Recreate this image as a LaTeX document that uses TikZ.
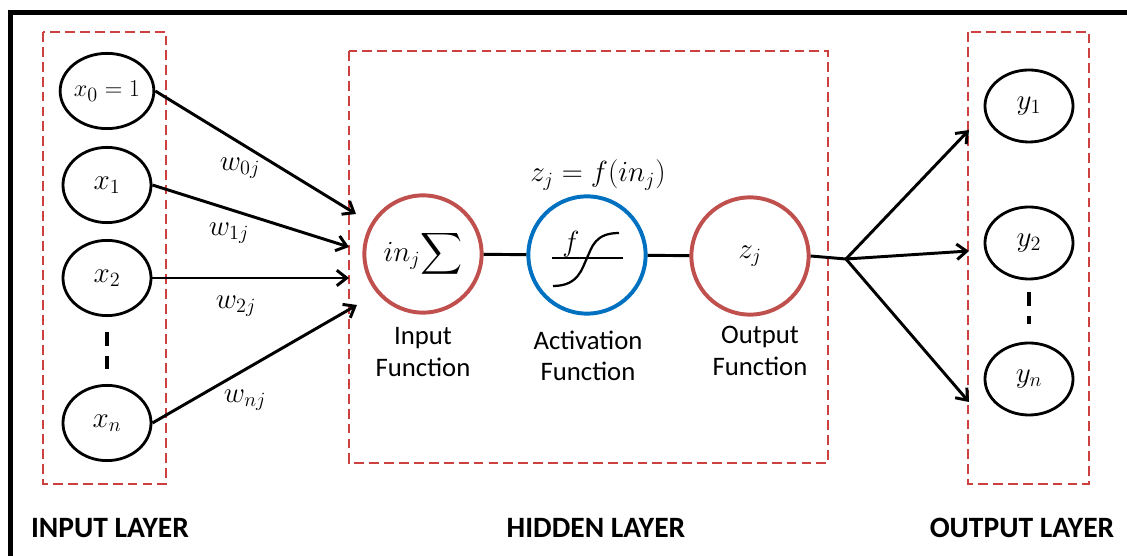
\documentclass[tikz,border=0pt]{standalone}
\usepackage{fontspec}
\usepackage{amsmath}
\usetikzlibrary{arrows.meta,shapes.geometric}
\newfontfamily\labelfont{Carlito}
\definecolor{boxred}{RGB}{204,64,64}
\definecolor{ringred}{RGB}{192,80,77}
\definecolor{ringblue}{RGB}{0,112,192}

\begin{document}
\begin{tikzpicture}[x=0.025cm,y=-0.025cm,
  font=\fontsize{21}{25}\selectfont,
  unit/.style={draw,ellipse,line width=2pt,minimum width=2.2cm,minimum height=1.88cm,inner sep=0pt},
  neuron/.style={draw,circle,line width=2.8pt,minimum size=2.93cm,inner sep=0pt},
  layerbox/.style={draw=boxred,line width=1.4pt,dash pattern=on 7pt off 3.6pt},
  wire/.style={line width=2.1pt},
  link/.style={line width=2.1pt,-{Straight Barb[length=7pt,width=11pt]}},
  vdots/.style={line width=2.4pt,dash pattern=on 10pt off 7pt},
  caption/.style={font=\labelfont\fontsize{19}{22.5}\selectfont,align=center},
  layername/.style={font=\labelfont\bfseries\fontsize{21}{25}\selectfont}]
\useasboundingbox (0,0) rectangle (1127,556);

% outer frame (left and top only)
\draw[line width=3.6pt] (10.5,556) -- (10.5,12.5) -- (1127,12.5);

% layer boxes
\draw[layerbox] (43,32) rectangle (166,484);
\draw[layerbox] (349,51) rectangle (828,463);
\draw[layerbox] (968,32) rectangle (1089,484);

% input layer
\node[unit,font=\fontsize{19}{22}\selectfont] (x0) at (107,91) {$x_0 = 1$};
\node[unit] (x1) at (107,185) {$x_1$};
\node[unit] (x2) at (107,278) {$x_2$};
\node[unit] (xn) at (107,423) {$x_n$};
\draw[vdots] ([yshift=-0.37cm]x2.south) -- ([yshift=0.37cm]xn.north);

% arrow ends on the hidden layer edge
\coordinate (in0) at (356,214);
\coordinate (in1) at (349,247);
\coordinate (in2) at (349,278);
\coordinate (inn) at (357,305);
\draw[link] (x0.east) -- (in0);
\draw[link] (x1.east) -- (in1);
\draw[link] (x2.east) -- (in2);
\draw[link] (xn.east) -- (inn);
\node (w0) at (240,168) {$w_{0j}$};
\node (w1) at (229,233) {$w_{1j}$};
\node (w2) at (236,306) {$w_{2j}$};
\node (wn) at (245,400) {$w_{nj}$};

% hidden layer
\node[neuron,draw=ringred] (sum) at (423,254) {$\displaystyle in_j\!\sum$};
\node[neuron,draw=ringblue] (act) at (587,255) {};
\node[neuron,draw=ringred] (outf) at (750,256) {$z_j$};
\draw[wire] (sum) -- (act);
\draw[wire] (act) -- (outf);
\node (zeq) at (598,175) {$z_j = f(in_j)$};

% sigmoid sketch
\begin{scope}[shift={(act)}]
  \draw[line width=1.6pt] (-35,3) -- (36,3);
  \draw[line width=1.6pt] (-34,31) .. controls (-8,31) and (-5,13) .. (0,3)
    .. controls (5,-8) and (8,-22) .. (32,-22);
  \node (fsym) at (-16,-11) {$f$};
\end{scope}

\node[caption] (sumtxt) at (423,352) {Input\\Function};
\node[caption] (acttxt) at (588,356) {Activation\\Function};
\node[caption] (outtxt) at (760,351) {Output\\Function};

% output layer
\node[unit,minimum height=1.8cm] (y1) at (1029,106) {$y_1$};
\node[unit,minimum height=1.8cm] (y2) at (1029,243) {$y_2$};
\node[unit,minimum height=1.8cm] (yn) at (1029,379) {$y_n$};
\draw[vdots] ([yshift=-0.3cm]y2.south) -- ([yshift=0.45cm]yn.north);

\coordinate (split) at (846,259);
\coordinate (out1) at (969,130);
\coordinate (out2) at (969,251);
\coordinate (outn) at (969,402);
\draw[wire] (outf.east) -- (split);
\draw[link] (split) -- (out1);
\draw[link] (split) -- (out2);
\draw[link] (split) -- (outn);

% layer names
\node[layername] (inname) at (110,528) {INPUT LAYER};
\node[layername] (hidname) at (596,528) {HIDDEN LAYER};
\node[layername] (outname) at (1022,528) {OUTPUT LAYER};
\end{tikzpicture}
\end{document}
